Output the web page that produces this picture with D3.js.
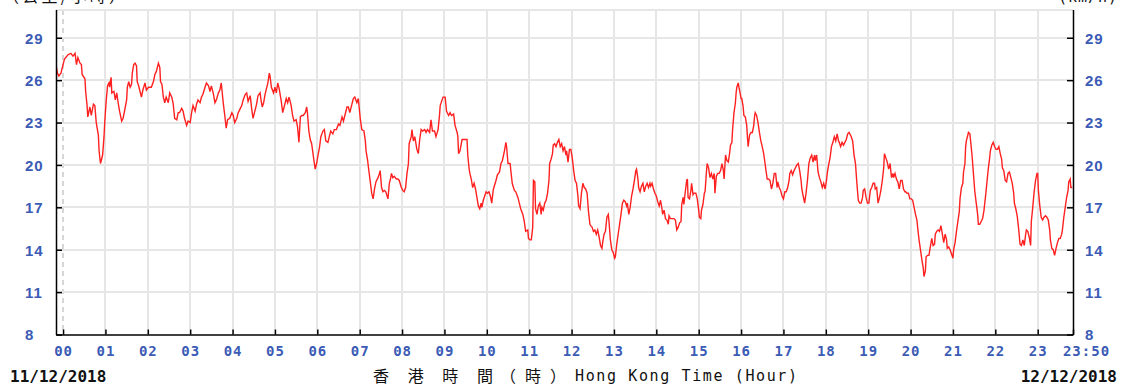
<!DOCTYPE html>
<meta charset="utf-8">
<style>
body { margin: 0; background: #fff; }
svg { display: block; background: #fff; }
.grid line { stroke: #e6e6e6; stroke-width: 2; shape-rendering: crispEdges; }
.grid line.zero { stroke: #d6d6d6; stroke-width: 1.5; stroke-dasharray: 5,4; }
.axis path, .axis line { stroke: #000; stroke-width: 1.5; fill: none; }
.axis--y text { font: bold 15px "Liberation Sans", Arial, sans-serif; fill: #3b5bb5; letter-spacing: 1px; }
.axis--x text { font: bold 14px "DejaVu Sans Mono", monospace; fill: #3b5bb5; letter-spacing: 1px; }
.date { font: bold 16px "DejaVu Sans Mono", monospace; fill: #111; }
.cjk { font: 16px "Noto Sans CJK TC", sans-serif; fill: #111; }
.mono { font: 15px "DejaVu Sans Mono", monospace; fill: #111; }
.wind { fill: none; stroke: #ff2020; stroke-width: 1.4; }
</style>
<body>
<svg id="chart" width="1126" height="392"></svg>
<script src="https://d3js.org/d3.v7.min.js"></script>
<script>
// labels
var hourLabels = ["00","01","02","03","04","05","06","07","08","09","10","11",
                  "12","13","14","15","16","17","18","19","20","21","22","23"];
var endLabel = "23:50";
var yTicks = [8, 11, 14, 17, 20, 23, 26, 29];
var dates = ["11/12/2018", "12/12/2018"];
var unitLeft = "（公里/小時）", unitRight = "(km/h)";
var titleZh = ["香 港 時 間", "（時）"], titleEn = "Hong Kong Time (Hour)";

// [minutes after 00:00, km/h]
var readings = [
[-10,27.1],[-8,26.5],[-6,26.3],[-3,26.5],[-1,26.9],[2,27.5],[7,27.8],[11,27.9],[14,27.7],[17,27.9],[19,27.1],[21,27.6],
[24,27.2],[26,27.1],[27,26.4],[31,26.1],[32,25.2],[34,24.2],[35,23.4],[38,24.1],[40,23.5],[43,24.3],[45,24.2],[47,23.0],
[50,22.1],[51,21.0],[53,20.1],[56,20.7],[58,22.0],[59,23.0],[61,24.5],[63,25.6],[65,25.8],[66,25.5],[68,26.2],[69,25.1],
[72,25.2],[74,24.6],[76,25.1],[78,24.4],[80,23.8],[83,23.1],[85,23.3],[87,23.8],[90,24.6],[91,25.5],[93,25.9],[95,25.5],
[97,25.7],[98,26.5],[100,27.1],[102,27.2],[104,27.0],[105,25.9],[107,25.6],[109,25.2],[111,24.8],[113,25.3],[116,25.8],[118,25.3],
[121,25.5],[125,25.5],[128,25.9],[130,26.4],[132,26.6],[135,27.2],[137,26.9],[138,25.9],[140,25.7],[142,24.8],[144,24.4],[146,24.8],
[149,24.4],[151,25.1],[154,24.8],[156,24.3],[158,23.3],[161,23.2],[163,23.7],[165,23.7],[168,24.0],[170,23.8],[172,23.3],[175,22.8],
[177,23.1],[180,23.0],[182,23.7],[184,24.2],[187,23.8],[189,24.3],[191,24.6],[194,24.4],[196,24.8],[198,25.0],[201,25.5],[203,25.8],
[206,25.6],[208,25.2],[210,25.6],[213,25.0],[215,24.4],[217,24.6],[220,25.1],[222,25.3],[224,25.8],[227,24.3],[229,23.5],[231,22.6],
[233,23.2],[236,23.3],[239,23.7],[241,23.5],[243,23.0],[246,23.3],[248,23.7],[250,23.9],[253,24.2],[255,24.6],[258,25.0],[260,25.1],
[262,24.5],[265,24.9],[267,24.0],[269,23.3],[272,23.9],[274,24.3],[276,24.9],[279,25.1],[280,24.7],[282,24.1],[284,24.4],[286,25.0],
[288,25.4],[290,25.8],[292,26.5],[293,26.3],[295,25.5],[298,25.1],[300,25.5],[302,25.1],[304,25.8],[306,25.4],[309,24.5],[311,23.7],
[313,24.1],[316,24.7],[318,24.4],[320,24.8],[323,24.2],[325,23.5],[327,23.1],[330,23.2],[332,22.7],[334,21.6],[336,23.4],[338,23.5],
[340,23.5],[343,23.7],[345,24.1],[346,23.7],[348,22.4],[350,21.8],[352,21.5],[355,20.4],[357,19.7],[359,20.1],[361,20.7],[363,21.2],
[365,22.0],[368,22.4],[370,22.5],[372,21.7],[375,21.6],[377,22.0],[379,22.4],[382,22.2],[384,22.5],[387,22.5],[390,22.9],[392,22.8],
[395,23.4],[397,23.1],[399,23.5],[402,24.1],[404,24.1],[406,23.7],[409,24.3],[411,24.7],[413,24.8],[416,24.4],[418,24.7],[421,23.2],
[423,22.5],[426,22.4],[428,21.7],[429,21.0],[431,20.4],[433,19.6],[435,18.8],[437,18.0],[439,17.6],[441,18.3],[443,18.8],[446,19.1],
[448,19.4],[449,19.6],[451,18.4],[453,18.1],[455,18.2],[457,18.1],[460,17.6],[462,18.7],[464,19.1],[465,19.4],[467,19.1],[469,19.2],
[472,19.0],[474,19.0],[476,18.9],[479,18.4],[481,18.2],[483,18.1],[485,18.4],[487,19.4],[489,20.1],[490,21.5],[493,22.0],[494,22.5],
[496,21.7],[498,22.0],[501,21.1],[503,20.8],[505,21.8],[507,22.5],[509,22.4],[512,22.5],[514,22.3],[516,22.5],[519,22.3],[521,23.2],
[523,22.4],[526,22.4],[528,22.0],[531,22.5],[533,23.5],[534,24.2],[536,24.5],[538,24.8],[541,24.8],[543,23.8],[546,23.5],[548,23.7],
[550,23.5],[553,23.6],[555,22.8],[558,22.3],[559,22.0],[560,20.8],[562,21.0],[565,21.8],[567,21.8],[570,21.8],[572,21.8],[573,20.7],
[575,19.7],[576,19.4],[578,19.0],[580,18.4],[582,18.7],[584,18.3],[586,17.7],[588,17.1],[590,16.9],[592,17.3],[593,17.0],[595,17.5],
[597,17.8],[599,18.1],[601,18.0],[603,18.1],[605,17.8],[607,17.3],[609,18.2],[610,18.4],[613,18.9],[615,19.3],[618,19.5],[620,20.1],
[622,20.3],[625,21.0],[627,21.6],[628,21.3],[630,20.1],[633,20.1],[634,19.6],[636,18.7],[639,18.2],[641,18.1],[644,17.7],[646,17.3],
[648,16.9],[651,16.5],[653,16.0],[655,15.3],[658,15.4],[659,14.8],[661,14.7],[663,14.7],[665,15.6],[666,18.9],[668,18.8],[669,16.9],
[671,16.5],[673,17.1],[675,17.3],[677,16.5],[678,17.0],[680,16.8],[682,17.3],[684,17.5],[686,18.0],[688,18.9],[689,20.1],[691,20.4],
[693,20.8],[694,21.4],[696,21.5],[698,21.3],[700,21.6],[702,21.8],[704,21.3],[706,21.5],[708,21.0],[710,21.3],[712,20.7],[713,21.0],
[715,20.2],[717,21.1],[719,21.1],[721,20.5],[723,19.6],[725,18.9],[727,18.7],[729,17.8],[730,17.1],[732,16.9],[734,18.0],[736,18.7],
[738,18.4],[740,18.3],[742,18.0],[744,16.7],[746,15.8],[747,15.7],[749,15.6],[751,15.3],[753,15.4],[755,15.1],[757,15.4],[759,14.9],
[761,14.3],[763,14.1],[764,14.5],[766,15.1],[768,15.3],[770,16.3],[772,16.5],[773,16.0],[775,14.7],[777,14.0],[779,13.8],[781,13.4],
[782,13.5],[784,14.4],[786,15.1],[788,15.8],[790,16.5],[792,17.3],[794,17.5],[796,17.4],[798,17.1],[799,17.3],[801,16.5],[803,17.0],
[805,17.8],[807,18.3],[809,18.9],[811,19.6],[812,19.7],[814,19.0],[815,18.4],[817,18.1],[819,18.5],[821,18.7],[823,18.1],[825,18.5],
[827,18.7],[829,18.4],[831,18.7],[832,18.5],[834,18.7],[836,18.3],[838,18.0],[840,17.8],[842,17.4],[844,17.1],[846,17.5],[848,16.9],
[849,16.5],[851,16.8],[853,16.2],[855,16.1],[857,15.8],[858,16.4],[860,16.2],[863,16.2],[865,16.2],[867,16.1],[869,15.4],[871,15.6],
[873,15.9],[875,16.0],[876,17.2],[878,17.7],[879,17.2],[881,18.1],[883,18.9],[884,19.0],[885,17.7],[887,17.6],[889,18.2],[890,18.7],
[892,17.9],[893,18.0],[896,18.0],[898,17.6],[900,16.8],[901,16.3],[903,16.2],[904,16.8],[906,17.2],[908,18.0],[909,18.1],[911,19.5],
[912,20.1],[914,19.8],[916,19.1],[918,19.4],[920,19.0],[922,19.4],[923,18.0],[925,19.2],[927,19.4],[929,19.4],[931,19.6],[933,20.1],
[935,19.6],[936,19.0],[938,20.7],[940,20.3],[942,20.2],[944,20.9],[945,21.4],[947,21.6],[948,22.5],[950,23.7],[952,24.4],[953,25.1],
[954,25.5],[956,25.8],[957,25.5],[959,25.0],[960,24.7],[961,24.7],[963,24.1],[964,23.5],[966,23.4],[968,22.8],[969,22.0],[970,21.3],
[972,22.1],[974,22.3],[976,22.3],[978,22.8],[979,23.4],[980,23.7],[982,23.5],[984,23.0],[986,22.3],[988,21.7],[990,21.3],[992,20.8],
[994,20.1],[995,19.7],[997,19.0],[999,19.0],[1001,18.9],[1003,18.3],[1005,18.7],[1007,19.4],[1009,19.4],[1011,18.4],[1012,18.8],[1014,18.4],
[1016,18.2],[1018,17.8],[1020,17.6],[1022,18.1],[1024,18.1],[1026,18.4],[1028,18.9],[1029,19.4],[1031,19.6],[1033,19.3],[1035,19.6],[1037,19.8],
[1039,20.0],[1041,20.1],[1043,19.6],[1045,18.9],[1046,18.3],[1048,17.8],[1050,17.3],[1052,18.0],[1054,18.9],[1056,20.1],[1058,20.5],[1060,20.7],
[1062,20.2],[1064,20.7],[1065,20.3],[1067,20.7],[1069,19.5],[1071,19.1],[1073,18.8],[1075,18.4],[1077,18.7],[1079,18.3],[1081,18.9],[1082,19.4],
[1084,20.0],[1086,20.5],[1088,21.3],[1090,21.6],[1092,22.0],[1094,21.7],[1096,22.2],[1098,21.7],[1099,21.6],[1101,21.3],[1103,21.6],[1105,21.4],
[1107,21.6],[1109,21.8],[1111,22.2],[1113,22.3],[1115,22.1],[1116,22.0],[1118,21.7],[1120,20.7],[1122,20.1],[1124,18.7],[1126,17.5],[1128,17.3],
[1130,17.3],[1132,17.7],[1133,18.2],[1135,18.3],[1137,17.7],[1139,17.3],[1141,17.3],[1143,18.2],[1145,18.4],[1147,18.7],[1149,18.7],[1150,18.3],
[1152,18.4],[1154,17.3],[1156,17.7],[1158,18.2],[1160,18.9],[1162,19.8],[1163,20.8],[1165,20.5],[1167,20.2],[1169,19.7],[1171,20.1],[1173,19.1],
[1175,19.4],[1176,19.1],[1178,19.4],[1180,19.0],[1182,18.8],[1184,18.3],[1186,18.9],[1188,18.9],[1190,18.3],[1192,18.1],[1193,18.1],[1195,18.0],
[1197,18.0],[1199,17.6],[1201,17.6],[1203,17.5],[1205,17.0],[1207,16.5],[1209,16.1],[1210,15.6],[1212,14.7],[1214,14.0],[1216,13.3],[1218,12.7],
[1219,12.1],[1221,12.5],[1222,13.5],[1224,13.6],[1226,13.6],[1228,14.2],[1230,14.8],[1232,14.3],[1234,14.4],[1235,15.1],[1237,15.3],[1239,15.4],
[1241,15.3],[1243,15.7],[1245,15.1],[1247,14.5],[1249,15.1],[1251,14.7],[1252,14.1],[1254,14.2],[1256,14.0],[1258,13.7],[1260,13.4],[1261,14.0],
[1263,14.5],[1265,15.3],[1267,16.0],[1269,16.7],[1270,17.6],[1272,18.4],[1274,18.7],[1275,19.5],[1277,20.1],[1278,21.3],[1279,21.7],[1281,22.1],
[1282,22.3],[1284,22.2],[1285,21.7],[1287,20.7],[1289,19.4],[1291,18.1],[1293,17.3],[1295,16.5],[1296,15.8],[1298,15.8],[1300,16.0],[1302,16.2],
[1304,16.8],[1306,17.7],[1308,18.7],[1310,19.7],[1312,20.5],[1313,21.0],[1315,21.4],[1317,21.6],[1319,21.3],[1321,21.1],[1323,21.1],[1325,21.3],
[1327,20.8],[1329,20.4],[1330,19.8],[1332,19.6],[1334,18.9],[1336,18.8],[1338,19.4],[1340,19.5],[1342,19.1],[1344,18.7],[1346,18.0],[1347,17.3],
[1349,16.9],[1351,16.4],[1353,15.5],[1355,14.4],[1357,14.3],[1359,14.7],[1361,14.3],[1363,15.1],[1364,15.4],[1366,15.3],[1368,14.9],[1370,14.3],
[1371,16.0],[1373,17.0],[1375,18.1],[1377,18.9],[1379,19.4],[1380,19.4],[1381,18.2],[1383,17.1],[1385,16.3],[1387,16.1],[1389,16.3],[1391,16.4],
[1393,16.3],[1395,16.1],[1397,15.4],[1398,14.7],[1400,14.1],[1402,14.0],[1404,13.6],[1406,14.1],[1408,14.5],[1410,14.8],[1412,14.8],[1414,15.1],
[1415,15.4],[1417,16.3],[1419,17.0],[1421,17.7],[1423,18.2],[1424,18.8],[1426,19.0],[1427,18.4],[1429,18.4]
];

var svg = d3.select("#chart");

var x = d3.scaleLinear().domain([-10, 1430]).range([56, 1073]);
var y = d3.scaleLinear().domain([8, 31]).range([334.5, 9.5]);

var hourValues = hourLabels.map(function(d, i) { return i * 60; });

// grid
var grid = svg.append("g").attr("class", "grid");
grid.selectAll(".v").data(hourValues).enter().append("line")
    .attr("class", function(d) { return d === 0 ? "zero" : "v"; })
    .attr("x1", function(d) { return Math.round(x(d)); })
    .attr("x2", function(d) { return Math.round(x(d)); })
    .attr("y1", y(31)).attr("y2", y(8));
grid.selectAll(".h").data(yTicks.slice(1).concat([31])).enter().append("line")
    .attr("class", "h")
    .attr("x1", x(-10)).attr("x2", x(1430))
    .attr("y1", function(d) { return Math.round(y(d)); })
    .attr("y2", function(d) { return Math.round(y(d)); });

// wind line
svg.append("clipPath").attr("id", "clip").append("rect")
    .attr("x", x(-10)).attr("y", y(31))
    .attr("width", x(1430) - x(-10)).attr("height", y(8) - y(31));

var line = d3.line()
    .x(function(d) { return x(d[0]); })
    .y(function(d) { return y(d[1]); });

svg.append("path")
    .datum(readings)
    .attr("class", "wind")
    .attr("clip-path", "url(#clip)")
    .attr("d", line);

// axes
var yLeft = svg.append("g")
    .attr("class", "axis axis--y")
    .attr("transform", "translate(" + x(-10) + ",0)")
    .call(d3.axisLeft(y).tickValues(yTicks).tickSizeInner(-6).tickSizeOuter(0));
yLeft.selectAll("text").attr("x", -31).attr("dy", "0.36em").style("text-anchor", "start");

svg.append("g")
    .attr("class", "axis axis--y")
    .attr("transform", "translate(" + x(1430) + ",0)")
    .call(d3.axisRight(y).tickValues(yTicks).tickSizeInner(-6).tickSizeOuter(0).tickPadding(12))
    .selectAll("text").attr("dy", "0.36em");

var xAxis = svg.append("g")
    .attr("class", "axis axis--x")
    .attr("transform", "translate(0," + y(8) + ")")
    .call(d3.axisBottom(x)
        .tickValues(hourValues.concat([1430]))
        .tickFormat(function(d) { return d === 1430 ? endLabel : hourLabels[d / 60]; })
        .tickSizeInner(-5).tickSizeOuter(0).tickPadding(12));
xAxis.selectAll(".tick").filter(function(d) { return d === 1430; })
    .select("text").attr("dx", 13);

// dates
svg.append("text").attr("class", "date").attr("x", 10).attr("y", 382).text(dates[0]);
svg.append("text").attr("class", "date").attr("x", 1117).attr("y", 382)
    .style("text-anchor", "end").text(dates[1]);

// x title
svg.append("text").attr("class", "cjk").attr("x", 373).attr("y", 382)
    .attr("textLength", 120).attr("lengthAdjust", "spacing").text(titleZh[0]);
svg.append("text").attr("class", "cjk").attr("x", 500).attr("y", 382)
    .attr("textLength", 66).attr("lengthAdjust", "spacing").text(titleZh[1]);
svg.append("text").attr("class", "mono").attr("x", 575).attr("y", 381)
    .attr("textLength", 222).attr("lengthAdjust", "spacing").text(titleEn);

// units (cut by the top edge, as in the source image)
svg.append("text").attr("class", "cjk").attr("x", 3).attr("y", 2)
    .attr("textLength", 122).attr("lengthAdjust", "spacing").text(unitLeft);
svg.append("text").attr("class", "mono").attr("x", 1058).attr("y", 2)
    .attr("textLength", 59).attr("lengthAdjust", "spacing").text(unitRight);
</script>
